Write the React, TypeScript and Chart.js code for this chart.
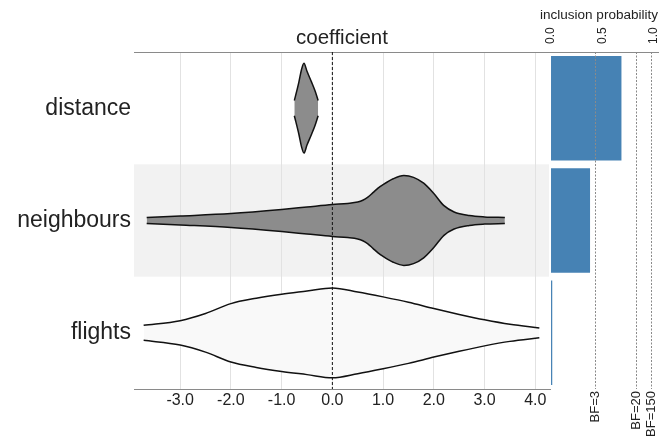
import React, { useEffect, useRef } from 'react';
import { Chart, registerables } from 'chart.js';

Chart.register(...registerables);

// ---------- data ----------
const rowNames = ['distance', 'neighbours', 'flights'];
const highlightRow = 1;

const coefTicks = [-3, -2, -1, 0, 1, 2, 3, 4];
const coefMin = -3.91;
const coefMax = 4.29;
const referenceCoef = 0;

const distanceX = [-0.75, -0.72, -0.66, -0.61, -0.56, -0.5, -0.41, -0.34, -0.28];
const distanceDensity = [0.17, 0.3, 0.58, 0.85, 1.0, 0.82, 0.58, 0.38, 0.17];

const neighboursX = [-3.66, -3.0, -2.0, -1.0, -0.5, 0, 0.3, 0.5, 0.6, 0.7, 0.8, 0.9, 1.0, 1.2, 1.41, 1.6, 1.8, 2.0, 2.2, 2.4, 2.7, 3.0, 3.4];
const neighboursDensity = [0.067, 0.1, 0.155, 0.245, 0.3, 0.355, 0.38, 0.41, 0.45, 0.52, 0.62, 0.72, 0.8, 0.93, 1.0, 0.96, 0.83, 0.6, 0.33, 0.19, 0.11, 0.08, 0.067];

const flightsX = [-3.72, -3, -2.5, -2, -1.5, -1, -0.5, 0, 0.5, 1, 1.5, 2, 2.5, 3, 3.5, 4.08];
const flightsDensity = [0.167, 0.27, 0.43, 0.65, 0.77, 0.86, 0.93, 1.0, 0.91, 0.8, 0.68, 0.54, 0.41, 0.29, 0.19, 0.11];

const violinFills = ['#8c8c8c', '#8c8c8c', '#f9f9f9'];

const inclusionProb = [0.684, 0.379, 0.012];
const probMin = -0.107;
const probMax = 1.039;
const probTicks = [0, 0.5, 1];
const bfProb = [0.4286, 0.8333, 0.974];
const bfLabels = ['BF=3', 'BF=20', 'BF=150'];

// ---------- styling ----------
const FONT = "'Liberation Sans', Arial, Helvetica, sans-serif";
const TEXT = '#222';
const AXIS = '#8a8a8a';
const HALF = 0.4; // max half height of a violin in row units
const TOP_TICK_SIZE = 12;

function violinDatasets(xs: number[], dens: number[], row: number, fill: string) {
  const lower = xs.map((x, i) => ({ x, y: row + dens[i] * HALF }));
  const upper = xs.map((x, i) => ({ x, y: row - dens[i] * HALF }));
  const common = {
    type: 'line' as const,
    borderColor: '#111',
    borderWidth: 1.5,
    pointRadius: 0,
    pointHoverRadius: 0,
    cubicInterpolationMode: 'monotone' as const,
    xAxisID: 'x',
    yAxisID: 'y',
  };
  return [
    { ...common, data: lower, fill: false },
    { ...common, data: upper, fill: '-1', backgroundColor: fill },
  ];
}

const bandPlugin = {
  id: 'band',
  beforeDraw(chart: any) {
    const { ctx, chartArea, scales } = chart;
    const y = scales.y;
    const a = y.getPixelForValue(highlightRow - 0.5);
    const b = y.getPixelForValue(highlightRow + 0.5);
    ctx.save();
    ctx.fillStyle = '#f2f2f2';
    ctx.fillRect(chartArea.left, Math.min(a, b), chartArea.right - chartArea.left - 1, Math.abs(b - a));
    ctx.restore();
  },
};

const fixH = (h: number) => (s: any) => {
  s.height = h;
  s.paddingLeft = 0;
  s.paddingRight = 0;
};

export default function App() {
  const leftRef = useRef<HTMLCanvasElement>(null);
  const rightRef = useRef<HTMLCanvasElement>(null);

  useEffect(() => {
    document.body.style.margin = '0';
    Chart.defaults.font.family = FONT;
    Chart.defaults.color = TEXT;

    const datasets: any[] = [
      {
        type: 'line',
        data: [
          { x: referenceCoef, y: -0.5 },
          { x: referenceCoef, y: 2.5 },
        ],
        borderColor: '#111',
        borderWidth: 1,
        borderDash: [3, 2],
        pointRadius: 0,
        fill: false,
        xAxisID: 'x',
        yAxisID: 'y',
      },
      ...violinDatasets(distanceX, distanceDensity, 0, violinFills[0]),
      ...violinDatasets(neighboursX, neighboursDensity, 1, violinFills[1]),
      ...violinDatasets(flightsX, flightsDensity, 2, violinFills[2]),
    ];

    const left = new Chart(leftRef.current!, {
      type: 'line',
      data: { datasets },
      plugins: [bandPlugin],
      options: {
        responsive: false,
        animation: false,
        events: [],
        layout: { padding: { left: 0, right: 115, top: 0, bottom: 0 } },
        plugins: { legend: { display: false }, tooltip: { enabled: false }, title: { display: false } },
        scales: {
          x: {
            type: 'linear',
            position: 'bottom',
            min: coefMin,
            max: coefMax,
            afterBuildTicks: (s: any) => {
              s.ticks = coefTicks.map((v) => ({ value: v }));
            },
            afterFit: fixH(48),
            grid: { color: '#e2e2e2', lineWidth: 1, drawTicks: false },
            border: { display: true, color: AXIS, width: 1 },
            ticks: {
              autoSkip: false,
              maxRotation: 0,
              padding: 2,
              color: TEXT,
              font: { size: 16, family: FONT },
              callback: (v: any) => Number(v).toFixed(1),
            },
          },
          xTop: {
            type: 'linear',
            position: 'top',
            min: coefMin,
            max: coefMax,
            afterFit: fixH(52),
            grid: { display: false, drawTicks: false },
            border: { display: true, color: AXIS, width: 1 },
            ticks: { display: false },
            title: {
              display: true,
              text: 'coefficient',
              color: TEXT,
              font: { size: 20.5, family: FONT },
              padding: { top: 26, bottom: 0 },
            },
          },
          y: {
            type: 'linear',
            min: -0.5,
            max: 2.5,
            reverse: true,
            afterBuildTicks: (s: any) => {
              s.ticks = rowNames.map((_, i) => ({ value: i }));
            },
            afterFit: (s: any) => {
              s.width = 134;
              s.paddingTop = 0;
              s.paddingBottom = 0;
            },
            grid: { display: false, drawTicks: false },
            border: { display: false },
            ticks: {
              padding: 3,
              color: TEXT,
              font: { size: 23, family: FONT },
              callback: (v: any) => rowNames[Number(v)],
            },
          },
        },
      } as any,
    });

    const right = new Chart(rightRef.current!, {
      type: 'bar',
      data: {
        labels: rowNames,
        datasets: [
          {
            data: inclusionProb,
            backgroundColor: '#4682b4',
            borderWidth: 0,
            barPercentage: 0.93,
            categoryPercentage: 1,
            xAxisID: 'x',
          },
        ],
      },
      options: {
        responsive: false,
        animation: false,
        events: [],
        indexAxis: 'y',
        layout: { padding: { left: 540, right: 7, top: 0, bottom: 0 } },
        plugins: { legend: { display: false }, tooltip: { enabled: false }, title: { display: false } },
        scales: {
          x: {
            type: 'linear',
            position: 'top',
            min: probMin,
            max: probMax,
            afterBuildTicks: (s: any) => {
              s.ticks = probTicks.map((v) => ({ value: v }));
            },
            afterFit: fixH(52),
            grid: { display: false, drawTicks: false },
            border: { display: true, color: AXIS, width: 1 },
            ticks: {
              autoSkip: false,
              minRotation: 90,
              maxRotation: 90,
              padding: 8,
              labelOffset: TOP_TICK_SIZE * 1.2,
              color: TEXT,
              font: { size: TOP_TICK_SIZE, family: FONT },
              callback: (v: any) => Number(v).toFixed(1),
            },
            title: {
              display: true,
              text: 'inclusion probability',
              color: TEXT,
              font: { size: 13.7, family: FONT },
              padding: { top: 7, bottom: 0 },
            },
          },
          xBF: {
            type: 'linear',
            position: 'bottom',
            min: probMin,
            max: probMax,
            afterBuildTicks: (s: any) => {
              s.ticks = bfProb.map((v) => ({ value: v }));
            },
            afterFit: fixH(48),
            grid: { display: true, color: '#8a8a8a', lineWidth: 1, drawTicks: false, z: 1 },
            border: { display: false, dash: [2, 1.5] },
            ticks: {
              autoSkip: false,
              minRotation: 90,
              maxRotation: 90,
              padding: 2,
              color: TEXT,
              font: { size: 13, family: FONT },
              callback: (_v: any, i: number) => bfLabels[i],
            },
          },
          y: { type: 'category', display: false },
        },
      } as any,
    });

    return () => {
      left.destroy();
      right.destroy();
    };
  }, []);

  return (
    <div style={{ position: 'absolute', left: 0, top: 0, width: 665, height: 437, background: '#fff' }}>
      <canvas ref={leftRef} width={665} height={437} style={{ position: 'absolute', left: 0, top: 0 }} />
      <canvas ref={rightRef} width={665} height={437} style={{ position: 'absolute', left: 0, top: 0 }} />
    </div>
  );
}
